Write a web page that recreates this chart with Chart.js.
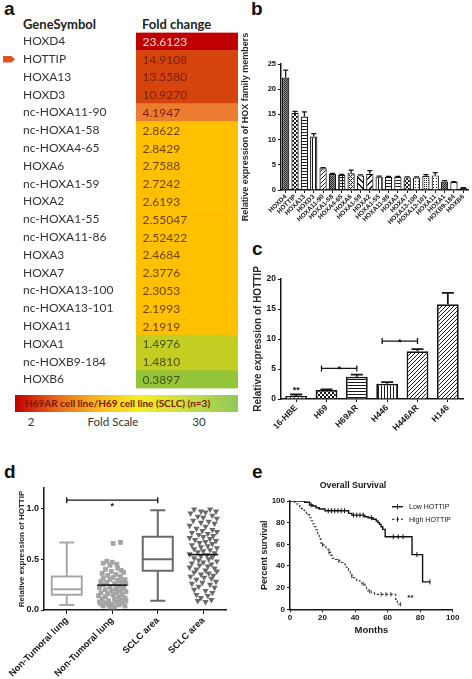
<!DOCTYPE html>
<html>
<head>
<meta charset="utf-8">
<script src="https://cdn.jsdelivr.net/npm/chart.js@4.4.1/dist/chart.umd.min.js"></script>
<style>
  html, body { margin: 0; padding: 0; background: #fff; }
  body { position: relative; width: 472px; height: 679px; overflow: hidden; font-family: "Liberation Sans", Arial, sans-serif; color: #222; }
  canvas, .abs { position: absolute; }
  .tag { position: absolute; font: bold 19px "Liberation Sans", Arial, sans-serif; line-height: 19px; color: #111; }
  .tbl { font-family: Lato, "Open Sans", sans-serif; color: #333; white-space: nowrap; }
</style>
</head>
<body>
<div class="tag" style="left:4px;top:-1px">a</div>
<div class="tag" style="left:251px;top:-1px">b</div>
<div class="tag" style="left:252px;top:239px">c</div>
<div class="tag" style="left:4px;top:462px">d</div>
<div class="tag" style="left:252px;top:462px">e</div>

<div class="abs tbl" style="left:23px;top:16px;font-weight:bold;font-size:13px;line-height:16px;color:#222">GeneSymbol</div>
<div class="abs tbl" style="left:142px;top:16px;font-weight:bold;font-size:13px;line-height:16px;color:#222">Fold change</div>
<div class="abs" style="left:3px;top:56px;width:12px;height:6.5px;background:#e2541c;clip-path:polygon(0 0,70% 0,100% 50%,70% 100%,0 100%)"></div>
<div class="abs tbl" style="left:15px;top:395px;width:213px;height:17px;padding-left:10px;line-height:17px;font-weight:bold;font-size:10px;color:#7c1800;background:linear-gradient(to right,#c00000 0%,#e8641c 18%,#f7b11e 35%,#f6ee22 55%,#cfe040 75%,#8fc85c 100%)">H69AR cell line/H69 cell line (SCLC) (n=3)</div>
<div class="abs tbl" style="left:21px;top:414px;width:20px;text-align:center;font-size:11.5px;line-height:16px">2</div>
<div class="abs tbl" style="left:73px;top:414px;width:80px;text-align:center;font-size:11.5px;line-height:16px">Fold Scale</div>
<div class="abs tbl" style="left:184px;top:414px;width:30px;text-align:center;font-size:11.5px;line-height:16px">30</div>

<canvas id="chartA" width="240" height="440" style="left:0;top:0"></canvas>
<canvas id="chartB" width="232" height="230" style="left:240px;top:0"></canvas>
<canvas id="chartC" width="232" height="230" style="left:240px;top:220px"></canvas>
<canvas id="chartD" width="240" height="239" style="left:0;top:440px"></canvas>
<canvas id="chartE" width="232" height="239" style="left:240px;top:440px"></canvas>

<script>
// a: array fold changes, H69AR vs H69
const geneSymbols = ['HOXD4', 'HOTTIP', 'HOXA13', 'HOXD3', 'nc-HOXA11-90', 'nc-HOXA1-58', 'nc-HOXA4-65', 'HOXA6', 'nc-HOXA1-59', 'HOXA2', 'nc-HOXA1-55', 'nc-HOXA11-86', 'HOXA3', 'HOXA7', 'nc-HOXA13-100', 'nc-HOXA13-101', 'HOXA11', 'HOXA1', 'nc-HOXB9-184', 'HOXB6'];
const foldChangeText = ['23.6123', '14.9108', '13.5580', '10.9270', '4.1947', '2.8622', '2.8429', '2.7588', '2.7242', '2.6193', '2.55047', '2.52422', '2.4684', '2.3776', '2.3053', '2.1993', '2.1919', '1.4976', '1.4810', '0.3897'];
const foldChanges = foldChangeText.map(Number);

// b: qPCR of HOX members
const hoxLabels = ['HOXD4', 'HOTTIP', 'HOXA13', 'HOXD3', 'HOXA11-90', 'HOXA1-58', 'HOXA4-65', 'HOXA6', 'HOXA1-59', 'HOXA2', 'HOXA1-55', 'HOXA11-86', 'HOXA3', 'HOXA7', 'HOXA13-100', 'HOXA13-101', 'HOXA11', 'HOXA1', 'HOXB9-184', 'HOXB6'];
const hoxMeans = [22.3, 15.3, 14.6, 10.6, 4.3, 3.15, 3.0, 3.3, 2.9, 3.2, 2.65, 2.6, 2.6, 2.5, 2.5, 2.8, 2.9, 1.7, 1.6, 0.4];
const hoxUpper = [23.8, 15.6, 15.5, 11.2, 4.45, 3.3, 3.1, 3.95, 3.0, 3.85, 2.75, 2.7, 2.7, 2.6, 2.6, 3.05, 3.45, 1.85, 1.65, 0.45];

// c: HOTTIP in cell lines
const cellLines = ['16-HBE', 'H69', 'H69AR', 'H446', 'H446AR', 'H146'];
const hottipMeans = [0.5, 1.5, 3.7, 2.55, 7.95, 15.8];
const hottipUpper = [0.75, 1.6, 4.05, 2.8, 8.3, 17.7];
const cBrackets = [[1, 2, 5.1, '*'], [3, 4, 9.65, '*']];
const cStars = [[0, 1.6, '**']];

// d: tissue samples
const dCategories = ['Non-Tumoral lung', 'Non-Tumoral lung', 'SCLC area', 'SCLC area'];
const ntLungBox = [0.05, 0.15, 0.205, 0.33, 0.665];
const sclcBox = [0.09, 0.385, 0.50, 0.72, 0.98];
const ntLungMean = 0.245;
const sclcMean = 0.545;
const ntLungValues = [0.665, 0.655, 0.48, 0.47, 0.46, 0.45, 0.44, 0.41, 0.40, 0.39, 0.38, 0.37, 0.36, 0.35, 0.34, 0.33, 0.32, 0.31, 0.30, 0.30, 0.29, 0.28, 0.28, 0.27, 0.26, 0.26, 0.25, 0.24, 0.23, 0.22, 0.22, 0.21, 0.20, 0.19, 0.19, 0.18, 0.17, 0.17, 0.16, 0.15, 0.15, 0.14, 0.13, 0.13, 0.12, 0.11, 0.11, 0.10, 0.09, 0.09, 0.08, 0.08, 0.07, 0.07, 0.06, 0.06, 0.05, 0.05, 0.04, 0.04, 0.03, 0.03];
const ntLungJitter = [0.18, 0.02, -0.12, 0.0, -0.2, 0.1, -0.05, 0.12, -0.15, 0.2, -0.02, 0.25, -0.22, 0.08, -0.1, 0.18, 0.02, -0.2, 0.28, -0.05, 0.12, -0.25, 0.22, -0.12, 0.05, 0.3, -0.2, 0.15, -0.05, 0.25, -0.28, 0.08, -0.15, 0.18, -0.02, 0.3, -0.25, 0.1, -0.1, 0.22, 0.02, -0.3, 0.15, -0.15, 0.28, 0.05, -0.22, 0.18, -0.08, 0.3, -0.28, 0.1, -0.15, 0.22, 0.0, -0.25, 0.15, -0.08, 0.28, -0.2, 0.05, -0.05];
const sclcValues = [0.99, 0.99, 0.97, 0.97, 0.96, 0.95, 0.93, 0.92, 0.91, 0.90, 0.88, 0.87, 0.86, 0.85, 0.83, 0.82, 0.80, 0.79, 0.78, 0.77, 0.76, 0.75, 0.74, 0.73, 0.72, 0.71, 0.70, 0.69, 0.68, 0.67, 0.66, 0.65, 0.64, 0.63, 0.62, 0.61, 0.60, 0.59, 0.58, 0.57, 0.56, 0.55, 0.54, 0.53, 0.52, 0.51, 0.50, 0.49, 0.48, 0.47, 0.46, 0.45, 0.44, 0.43, 0.42, 0.41, 0.40, 0.39, 0.38, 0.37, 0.36, 0.35, 0.34, 0.33, 0.32, 0.31, 0.30, 0.28, 0.27, 0.26, 0.25, 0.23, 0.22, 0.20, 0.19, 0.17, 0.15, 0.14, 0.12, 0.10, 0.09, 0.08];
const sclcJitter = [-0.2, 0.15, -0.05, 0.28, 0.05, -0.28, 0.2, -0.12, 0.0, 0.3, -0.22, 0.12, -0.05, 0.25, -0.3, 0.05, -0.15, 0.2, -0.02, 0.3, -0.25, 0.1, -0.1, 0.22, 0.0, -0.3, 0.15, -0.18, 0.28, 0.05, -0.08, 0.2, -0.25, 0.1, -0.05, 0.3, -0.2, 0.15, 0.0, -0.12, 0.25, -0.3, 0.08, -0.05, 0.2, -0.2, 0.12, -0.1, 0.3, 0.0, -0.25, 0.18, -0.08, 0.1, -0.3, 0.25, -0.15, 0.05, 0.3, -0.2, 0.12, -0.05, 0.22, -0.28, 0.02, 0.18, -0.15, 0.28, -0.02, -0.25, 0.15, -0.1, 0.25, -0.2, 0.05, 0.2, -0.15, 0.1, -0.05, 0.18, -0.12, 0.05];

// e: Kaplan-Meier, overall survival
const lowSteps = [[0, 100], [9, 98.8], [12, 96.3], [14, 95.4], [16, 93.8], [18, 92.6], [21.5, 91], [36, 88.6], [38, 87], [46, 85.5], [48, 84.6], [51, 83.2], [53, 81.5], [54, 80], [55, 78.4], [56, 76.2], [57, 73.8], [58.5, 67], [75, 50.5], [81.5, 25.3], [86, 25.3]];
const highSteps = [[0, 100], [3, 98.6], [4, 97.2], [5, 95.8], [6, 94.4], [7, 93], [8, 91.6], [9, 90.2], [10, 88.8], [11, 87.4], [12, 84.6], [13, 81.8], [14, 79], [15, 76.2], [16, 73.4], [17, 69.2], [18, 65], [19, 61], [20, 59.6], [21, 58.2], [22, 56.8], [23, 55.4], [24, 52.6], [25, 49.8], [26, 47], [27, 46], [29, 44.6], [31, 43.2], [33, 41.8], [34, 39], [35, 37.6], [36, 34.8], [37, 32], [38, 30.6], [39, 29.2], [40, 27.8], [41, 26.4], [43, 25], [44, 23.6], [46, 22.2], [47, 19.4], [48, 16.6], [50, 15.2], [52, 13.8], [65, 9.2], [66, 4.6], [69, 4.6]];
const lowCensor = [[13, 96.3], [23.5, 91], [25.5, 91], [27.5, 91], [29.5, 91], [31.5, 91], [33.5, 91], [39, 87], [41, 87], [43, 87], [45, 87], [50, 84.6], [63.5, 67], [66.5, 67], [69.5, 67], [78, 50.5], [86, 25.3]];
const highCensor = [[20, 59.6], [24, 52.6], [30, 44.6], [38, 30.6], [45, 23.6], [49, 16.6], [56, 13.8], [59, 13.8], [62, 13.8], [68, 4.6]];
const survivalGroups = ['Low HOTTIP', 'High HOTTIP'];

const ink = '#161616';
const arialBold = size => ({ family: '"Liberation Sans", Arial, sans-serif', size, weight: 'bold' });
Chart.defaults.font.family = '"Liberation Sans", Arial, sans-serif';
Chart.defaults.color = ink;

function pattern(kind) {
  const size = { cross: 2, crossLight: 2, dotsDense: 2, checker: 4, diag: 4, bdiag: 4, diamond: 4, diagWide: 6, bdiagWide: 6 }[kind] || 3;
  const c = document.createElement('canvas');
  c.width = c.height = size;
  const g = c.getContext('2d');
  g.fillStyle = '#fff';
  g.fillRect(0, 0, size, size);
  g.fillStyle = '#1a1a1a';
  const px = (x, y) => g.fillRect(x, y, 1, 1);
  if (kind === 'cross') { g.fillStyle = '#909090'; g.fillRect(0, 0, 2, 2); g.fillStyle = '#2a2a2a'; px(0, 0); px(1, 1); }
  if (kind === 'crossLight') { g.fillStyle = '#cfcfcf'; g.fillRect(0, 0, 2, 2); g.fillStyle = '#444'; px(0, 0); px(1, 1); }
  if (kind === 'checker') { g.fillRect(0, 0, 2, 2); g.fillRect(2, 2, 2, 2); }
  if (kind === 'hlines') g.fillRect(0, 0, 3, 1);
  if (kind === 'vlines') g.fillRect(0, 0, 1, 3);
  if (kind === 'grid') { g.fillRect(0, 0, 3, 1); g.fillRect(0, 0, 1, 3); }
  if (kind === 'dots') px(1, 1);
  if (kind === 'dotsDense') px(0, 0);
  if (kind === 'diag') for (let i = 0; i < 4; i++) px(i, 3 - i);
  if (kind === 'bdiag') for (let i = 0; i < 4; i++) px(i, i);
  if (kind === 'diagWide') for (let i = 0; i < 6; i++) { px(i, 5 - i); px((i + 1) % 6, 5 - i); }
  if (kind === 'bdiagWide') for (let i = 0; i < 6; i++) { px(i, i); px((i + 1) % 6, i); }
  if (kind === 'diamond') { px(2, 0); px(1, 1); px(3, 1); px(0, 2); px(1, 3); px(3, 3); }
  if (kind === 'black') g.fillRect(0, 0, size, size);
  return g.createPattern(c, 'repeat');
}

const errorBars = {
  id: 'errorBars',
  afterDatasetsDraw(chart, args, o) {
    const { ctx } = chart;
    const y = chart.scales.y;
    ctx.save();
    ctx.strokeStyle = ink;
    ctx.lineWidth = o.width;
    chart.getDatasetMeta(0).data.forEach((bar, i) => {
      const top = y.getPixelForValue(o.values[i]);
      const half = bar.width * o.cap / 2;
      ctx.beginPath();
      ctx.moveTo(bar.x, bar.y);
      ctx.lineTo(bar.x, top);
      ctx.moveTo(bar.x - half, top);
      ctx.lineTo(bar.x + half, top);
      ctx.stroke();
    });
    ctx.restore();
  }
};

const sigMarks = {
  id: 'sigMarks',
  afterDatasetsDraw(chart, args, o) {
    const { ctx, scales: { x, y } } = chart;
    ctx.save();
    ctx.strokeStyle = ink;
    ctx.fillStyle = ink;
    ctx.lineWidth = 1.3;
    ctx.font = 'bold 9px "Liberation Sans", Arial, sans-serif';
    ctx.textAlign = 'center';
    (o.brackets || []).forEach(([a, b, v, txt]) => {
      const x1 = x.getPixelForValue(a) - o.lead;
      const x2 = x.getPixelForValue(b);
      const py = y.getPixelForValue(v);
      ctx.beginPath();
      ctx.moveTo(x1, py - 3); ctx.lineTo(x1, py + 3);
      ctx.moveTo(x1, py); ctx.lineTo(x2, py);
      ctx.moveTo(x2, py - 3); ctx.lineTo(x2, py + 3);
      ctx.stroke();
      ctx.textBaseline = o.starBelow ? 'top' : 'alphabetic';
      ctx.fillText(txt, (x1 + x2) / 2, o.starBelow ? py + 2 : py + 4);
    });
    (o.stars || []).forEach(([a, v, txt]) => {
      ctx.textBaseline = 'alphabetic';
      ctx.fillText(txt, x.getPixelForValue(a), y.getPixelForValue(v) + 4);
    });
    ctx.restore();
  }
};

// ---------- a
const cellColor = v => v > 20 ? '#c00000' : v > 10 ? '#d6440e' : v > 4 ? '#ec7c30' : v > 2 ? '#ffc000' : v > 1 ? '#c4cd22' : '#93c43a';
const cellInk = v => v > 20 ? '#fbe2d6' : v > 4 ? '#7a1f00' : v > 1.9 ? '#6e4400' : '#46520c';
const cellText = {
  id: 'cellText',
  afterDatasetsDraw(chart) {
    const { ctx } = chart;
    const x0 = chart.scales.x.getPixelForValue(0);
    ctx.save();
    ctx.font = '12px Lato, "Open Sans", sans-serif';
    ctx.textBaseline = 'middle';
    chart.getDatasetMeta(0).data.forEach((cell, i) => {
      ctx.fillStyle = cellInk(foldChanges[i]);
      ctx.fillText(foldChangeText[i], x0 + 6.5, cell.y + 0.5);
    });
    ctx.restore();
  }
};

new Chart(document.getElementById('chartA'), {
  type: 'bar',
  data: {
    labels: geneSymbols,
    datasets: [{
      data: foldChanges.map(() => [0, 1]),
      backgroundColor: foldChanges.map(cellColor),
      borderWidth: 0,
      barPercentage: 1,
      categoryPercentage: 1
    }]
  },
  options: {
    indexAxis: 'y',
    responsive: false,
    animation: false,
    events: [],
    layout: { padding: { left: 23, top: 32.5, right: 2, bottom: 51.5 } },
    plugins: { legend: { display: false }, tooltip: { enabled: false } },
    scales: {
      x: { display: false, min: 0, max: 1 },
      y: {
        grid: { display: false },
        border: { display: false },
        ticks: { crossAlign: 'far', padding: 0, color: '#333', font: { family: 'Lato, "Open Sans", sans-serif', size: 12 } },
        afterFit(s) { s.width = 113; }
      }
    }
  },
  plugins: [cellText]
});

// ---------- b
const hoxPatterns = ['cross', 'checker', 'hlines', 'vlines', 'diag', 'cross', 'grid', 'diamond', 'bdiagWide', 'diagWide', 'vlines', 'hlines', 'hlines', 'checker', 'dots', 'dotsDense', 'dots', 'cross', 'white', 'black'];

new Chart(document.getElementById('chartB'), {
  type: 'bar',
  data: {
    labels: hoxLabels,
    datasets: [{
      data: hoxMeans,
      backgroundColor: hoxPatterns.map(pattern),
      borderColor: ink,
      borderWidth: 1.2,
      barPercentage: 0.78,
      categoryPercentage: 1
    }]
  },
  options: {
    responsive: false,
    animation: false,
    events: [],
    layout: { padding: { left: 0, top: 64, right: 4, bottom: 0 } },
    plugins: { legend: { display: false }, tooltip: { enabled: false }, errorBars: { values: hoxUpper, width: 1.3, cap: 0.7 } },
    scales: {
      x: {
        grid: { drawOnChartArea: false, offset: false, color: ink, tickLength: 3 },
        border: { color: ink, width: 1.5 },
        ticks: { font: arialBold(6.5), color: ink, maxRotation: 45, minRotation: 45, autoSkip: false, padding: 0 },
        afterFit(s) { s.height = 40; s.paddingLeft = 0; s.paddingRight = 0; }
      },
      y: {
        min: 0, max: 25,
        ticks: { stepSize: 5, font: arialBold(7.5), color: ink, padding: 2 },
        grid: { drawOnChartArea: false, color: ink, tickLength: 3 },
        border: { color: ink, width: 1.5 },
        title: { display: true, text: 'Relative expression of HOX family members', font: arialBold(9), color: '#2a2a2a', padding: { top: 0, bottom: 0 } },
        afterFit(s) { s.width = 41; }
      }
    }
  },
  plugins: [errorBars]
});

// ---------- c
const cellPatterns = ['diag', 'checker', 'hlines', 'vlines', 'diag', 'diag'];

new Chart(document.getElementById('chartC'), {
  type: 'bar',
  data: {
    labels: cellLines,
    datasets: [{
      data: hottipMeans,
      backgroundColor: cellPatterns.map(pattern),
      borderColor: ink,
      borderWidth: 1.8,
      barPercentage: 0.72,
      categoryPercentage: 1
    }]
  },
  options: {
    responsive: false,
    animation: false,
    events: [],
    layout: { padding: { left: 0, top: 59, right: 9, bottom: 0 } },
    plugins: {
      legend: { display: false }, tooltip: { enabled: false },
      errorBars: { values: hottipUpper, width: 1.8, cap: 0.55 },
      sigMarks: { brackets: cBrackets, stars: cStars, lead: 5, starBelow: false }
    },
    scales: {
      x: {
        grid: { drawOnChartArea: false, offset: false, color: ink, tickLength: 3 },
        border: { color: ink, width: 1.5 },
        ticks: { font: arialBold(8.5), color: ink, maxRotation: 45, minRotation: 45, autoSkip: false, padding: 1 },
        afterFit(s) { s.height = 51; s.paddingLeft = 0; s.paddingRight = 0; }
      },
      y: {
        min: 0, max: 20,
        ticks: { stepSize: 5, font: arialBold(8.5), color: ink, padding: 2 },
        grid: { drawOnChartArea: false, color: ink, tickLength: 3 },
        border: { color: ink, width: 1.5 },
        title: { display: true, text: 'Relative expression of HOTTIP', font: arialBold(10), color: '#2a2a2a', padding: { top: 12, bottom: 0 } },
        afterFit(s) { s.width = 41; }
      }
    }
  },
  plugins: [errorBars, sigMarks]
});

// ---------- d
const boxPlots = {
  id: 'boxPlots',
  beforeDatasetsDraw(chart, args, o) {
    const { ctx, scales: { x, y } } = chart;
    ctx.save();
    ctx.lineWidth = 2;
    o.boxes.forEach(({ at, stats, color }) => {
      const [mn, q1, med, q3, mx] = stats.map(v => y.getPixelForValue(v));
      const cx = x.getPixelForValue(at);
      ctx.strokeStyle = color;
      ctx.beginPath();
      ctx.rect(cx - 15, q3, 30, q1 - q3);
      ctx.moveTo(cx - 15, med); ctx.lineTo(cx + 15, med);
      ctx.moveTo(cx, q3); ctx.lineTo(cx, mx);
      ctx.moveTo(cx - 7.5, mx); ctx.lineTo(cx + 7.5, mx);
      ctx.moveTo(cx, q1); ctx.lineTo(cx, mn);
      ctx.moveTo(cx - 7.5, mn); ctx.lineTo(cx + 7.5, mn);
      ctx.stroke();
    });
    ctx.restore();
  },
  afterDatasetsDraw(chart, args, o) {
    const { ctx, scales: { x, y } } = chart;
    ctx.save();
    ctx.strokeStyle = '#111';
    ctx.lineWidth = 1.6;
    o.means.forEach(([at, v]) => {
      const cx = x.getPixelForValue(at), py = y.getPixelForValue(v);
      ctx.beginPath(); ctx.moveTo(cx - 15, py); ctx.lineTo(cx + 15, py); ctx.stroke();
    });
    ctx.restore();
  }
};

new Chart(document.getElementById('chartD'), {
  type: 'scatter',
  data: {
    datasets: [
      {
        data: ntLungValues.map((v, i) => ({ x: 2 + ntLungJitter[i], y: v })),
        pointStyle: 'rect', pointRadius: 3.4, backgroundColor: '#a4a4a4', borderWidth: 0
      },
      {
        data: sclcValues.map((v, i) => ({ x: 4 + sclcJitter[i], y: v })),
        pointStyle: 'triangle', rotation: 180, pointRadius: 3.6, backgroundColor: '#6a6a6a', borderWidth: 0
      }
    ]
  },
  options: {
    responsive: false,
    animation: false,
    events: [],
    layout: { padding: { left: 0, top: 48, right: 14, bottom: 0 } },
    plugins: {
      legend: { display: false }, tooltip: { enabled: false },
      boxPlots: {
        boxes: [{ at: 1, stats: ntLungBox, color: '#a8a8a8' }, { at: 3, stats: sclcBox, color: '#6a6a6a' }],
        means: [[2, ntLungMean], [4, sclcMean]]
      },
      sigMarks: { brackets: [[1, 3, 1.08, '*']], lead: 0, starBelow: true }
    },
    scales: {
      x: {
        type: 'linear', min: 0.5, max: 4.5,
        afterBuildTicks(s) { s.ticks = dCategories.map((_, i) => ({ value: i + 1 })); },
        grid: { drawOnChartArea: false, color: ink, tickLength: 4 },
        border: { color: ink, width: 1.5 },
        ticks: { callback: v => dCategories[v - 1], font: arialBold(9.3), color: ink, maxRotation: 45, minRotation: 45, autoSkip: false, padding: 1 },
        afterFit(s) { s.height = 69; s.paddingLeft = 0; s.paddingRight = 0; }
      },
      y: {
        min: 0, max: 1.2,
        ticks: { stepSize: 0.5, includeBounds: false, callback: v => v.toFixed(1), font: arialBold(9), color: ink, padding: 2 },
        grid: { drawOnChartArea: false, color: ink, tickLength: 3 },
        border: { color: ink, width: 1.5 },
        title: { display: true, text: 'Relative expression of HOTTIP', font: arialBold(8), color: '#2a2a2a', padding: { top: 17, bottom: 0 } },
        afterFit(s) { s.width = 44; }
      }
    }
  },
  plugins: [boxPlots, sigMarks]
});

// ---------- e
const survivalDecor = {
  id: 'survivalDecor',
  afterDatasetsDraw(chart) {
    const { ctx, scales: { x, y } } = chart;
    ctx.save();
    ctx.fillStyle = ink;
    ctx.textAlign = 'center';
    ctx.textBaseline = 'middle';
    ctx.font = 'bold 8.8px "Liberation Sans", Arial, sans-serif';
    ctx.fillText('Overall Survival', 113, 45.7);
    ctx.font = 'bold 8px "Liberation Sans", Arial, sans-serif';
    ctx.fillText('**', x.getPixelForValue(74), y.getPixelForValue(11));
    ctx.textAlign = 'left';
    ctx.font = '7px "Liberation Sans", Arial, sans-serif';
    survivalGroups.forEach((name, i) => {
      const ly = 66.7 + i * 12.6;
      ctx.strokeStyle = ink;
      ctx.lineWidth = i ? 1.1 : 1.4;
      ctx.setLineDash(i ? [2.5, 2] : []);
      ctx.beginPath(); ctx.moveTo(152, ly); ctx.lineTo(163, ly); ctx.stroke();
      ctx.setLineDash([]);
      ctx.lineWidth = 1;
      ctx.beginPath(); ctx.moveTo(157.5, ly - 2.5); ctx.lineTo(157.5, ly + 2.5); ctx.stroke();
      ctx.fillText(name, 169, ly + 0.5);
    });
    ctx.restore();
  }
};

const toPoints = rows => rows.map(([m, s]) => ({ x: m, y: s }));

new Chart(document.getElementById('chartE'), {
  type: 'scatter',
  data: {
    datasets: [
      { data: toPoints(lowSteps), showLine: true, stepped: true, borderColor: '#111', borderWidth: 1.4, pointRadius: 0 },
      { data: toPoints(highSteps), showLine: true, stepped: true, borderColor: '#333', borderWidth: 1.1, borderDash: [2.5, 2], pointRadius: 0 },
      { data: toPoints(lowCensor), pointStyle: 'line', rotation: 90, pointRadius: 2.5, borderColor: '#111', borderWidth: 1 },
      { data: toPoints(highCensor), pointStyle: 'line', rotation: 90, pointRadius: 2.2, borderColor: '#444', borderWidth: 1 }
    ]
  },
  options: {
    responsive: false,
    animation: false,
    events: [],
    layout: { padding: { left: 0, top: 61, right: 19.3, bottom: 0 } },
    plugins: { legend: { display: false }, tooltip: { enabled: false } },
    scales: {
      x: {
        type: 'linear', min: 0, max: 100,
        grid: { drawOnChartArea: false, color: ink, tickLength: 3 },
        border: { color: ink, width: 1.5 },
        ticks: { stepSize: 20, font: arialBold(8), color: ink, padding: 1, maxRotation: 0 },
        title: { display: true, text: 'Months', font: arialBold(9.5), color: '#1a1a1a', padding: { top: 0, bottom: 43 } },
        afterFit(s) { s.height = 69.7; }
      },
      y: {
        min: 0, max: 100,
        ticks: { stepSize: 20, font: arialBold(8), color: ink, padding: 2 },
        grid: { drawOnChartArea: false, color: ink, tickLength: 3 },
        border: { color: ink, width: 1.5 },
        title: { display: true, text: 'Percent survival', font: arialBold(9), color: '#1a1a1a', padding: { top: 19.6, bottom: 0 } },
        afterFit(s) { s.width = 50; }
      }
    }
  },
  plugins: [survivalDecor]
});
</script>
</body>
</html>
